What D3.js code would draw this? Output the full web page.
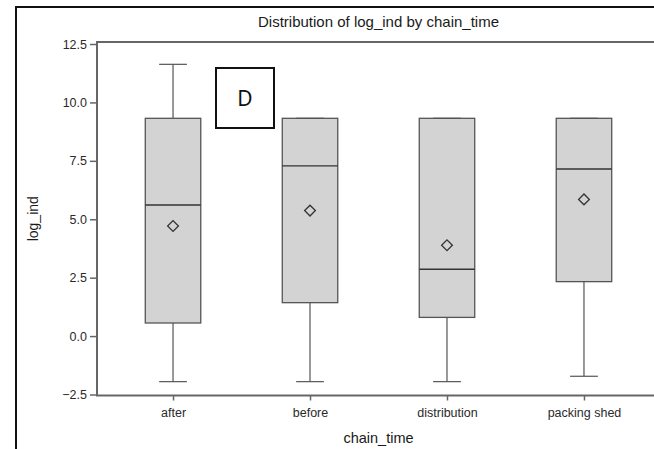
<!DOCTYPE html>
<html>
<head>
<meta charset="utf-8">
<script src="https://cdn.jsdelivr.net/npm/d3@7"></script>
<style>
  body { margin: 0; background: #fff; }
  svg { display: block; font-family: "Liberation Sans", Arial, sans-serif; }
</style>
</head>
<body>
<div id="chart"></div>
<script>
// data
const categories = ["after", "before", "distribution", "packing shed"];
const mins    = [-1.95, -1.95, -1.95, -1.72];
const q1s     = [0.56, 1.43, 0.80, 2.33];
const medians = [5.61, 7.28, 2.86, 7.15];
const q3s     = [9.32, 9.32, 9.32, 9.32];
const maxs    = [11.63, 9.32, 9.32, 9.32];
const means   = [4.71, 5.37, 3.89, 5.85];
const yTicks  = [-2.5, 0, 2.5, 5, 7.5, 10, 12.5];

const stats = categories.map((c, i) => ({
  cat: c, min: mins[i], q1: q1s[i], med: medians[i], q3: q3s[i], max: maxs[i], mean: means[i]
}));

// 1. dimensions
const width = 654, height = 449;
const plot = { left: 97, right: 660, top: 42, bottom: 395.5 };

// 2. canvas
const svg = d3.select("#chart").append("svg")
  .attr("width", width)
  .attr("height", height);

// outer black frame (runs off the right / bottom edge)
svg.append("rect")
  .attr("x", 16).attr("y", 7)
  .attr("width", 700).attr("height", 500)
  .attr("fill", "none")
  .attr("stroke", "#111")
  .attr("stroke-width", 2);

// 3. scales
const xScale = d3.scalePoint()
  .domain(categories)
  .range([plot.left, plot.right])
  .padding(0.555);

const yScale = d3.scaleLinear()
  .domain([-2.5, 12.5])
  .range([394.5, 44]);

const step = xScale.step();
const boxW = step * 0.405;
const capW = boxW / 2;

// 4. axes
const axisColor = "#666";
const textColor = "#2a2a2a";

const yAxis = svg.append("g")
  .attr("transform", `translate(${plot.left},0)`)
  .call(d3.axisLeft(yScale).tickValues(yTicks).tickFormat(d3.format(".1f")).tickSizeOuter(0).tickSize(7));
yAxis.select(".domain").remove();
yAxis.selectAll(".tick line").attr("stroke", axisColor).attr("stroke-width", 1.5);
yAxis.selectAll(".tick text")
  .attr("fill", textColor)
  .attr("font-size", 12.5)
  .attr("x", -10)
  .attr("font-family", "Liberation Sans, Arial, sans-serif");

const xAxis = svg.append("g")
  .attr("transform", `translate(0,${plot.bottom})`)
  .call(d3.axisBottom(xScale).tickSizeOuter(0).tickSize(5));
xAxis.select(".domain").remove();
xAxis.selectAll(".tick line").attr("stroke", axisColor).attr("stroke-width", 1.5);
xAxis.selectAll(".tick text")
  .attr("fill", textColor)
  .attr("font-size", 12.5)
  .attr("dy", "1.05em")
  .attr("font-family", "Liberation Sans, Arial, sans-serif");

// plot frame
svg.append("path")
  .attr("d", `M${plot.right + 5},${plot.top}H${plot.left}V${plot.bottom}H${plot.right + 5}`)
  .attr("fill", "none")
  .attr("stroke", axisColor)
  .attr("stroke-width", 2);

// 5. boxes
const boxes = svg.append("g").attr("class", "boxes")
  .selectAll("g").data(stats).join("g")
  .attr("transform", (d) => `translate(${xScale(d.cat)},0)`);

const lineColor = "#555";

// whiskers
boxes.append("line")
  .attr("x1", 0).attr("x2", 0)
  .attr("y1", (d) => yScale(d.q3)).attr("y2", (d) => yScale(d.max))
  .attr("stroke", lineColor).attr("stroke-width", 1.2);
boxes.append("line")
  .attr("x1", 0).attr("x2", 0)
  .attr("y1", (d) => yScale(d.q1)).attr("y2", (d) => yScale(d.min))
  .attr("stroke", lineColor).attr("stroke-width", 1.2);

boxes.append("rect")
  .attr("x", -boxW / 2)
  .attr("width", boxW)
  .attr("y", (d) => yScale(d.q3))
  .attr("height", (d) => yScale(d.q1) - yScale(d.q3))
  .attr("fill", "#d3d3d3")
  .attr("stroke", lineColor)
  .attr("stroke-width", 1.3);

// caps
boxes.append("line")
  .attr("x1", -capW / 2).attr("x2", capW / 2)
  .attr("y1", (d) => yScale(d.max)).attr("y2", (d) => yScale(d.max))
  .attr("stroke", lineColor).attr("stroke-width", 1.2);
boxes.append("line")
  .attr("x1", -capW / 2).attr("x2", capW / 2)
  .attr("y1", (d) => yScale(d.min)).attr("y2", (d) => yScale(d.min))
  .attr("stroke", lineColor).attr("stroke-width", 1.2);

// median
boxes.append("line")
  .attr("x1", -boxW / 2).attr("x2", boxW / 2)
  .attr("y1", (d) => yScale(d.med)).attr("y2", (d) => yScale(d.med))
  .attr("stroke", "#333").attr("stroke-width", 1.3);

// mean diamond
boxes.append("path")
  .attr("d", d3.symbol(d3.symbolSquare, 58))
  .attr("transform", (d) => `translate(0,${yScale(d.mean)}) rotate(45)`)
  .attr("fill", "none")
  .attr("stroke", "#333")
  .attr("stroke-width", 1.3);

// 6. titles
svg.append("text")
  .attr("x", (plot.left + plot.right) / 2)
  .attr("y", 27)
  .attr("text-anchor", "middle")
  .attr("font-size", 15)
  .attr("fill", "#1a1a1a")
  .text("Distribution of log_ind by chain_time");

svg.append("text")
  .attr("x", (plot.left + plot.right) / 2)
  .attr("y", 443)
  .attr("text-anchor", "middle")
  .attr("font-size", 14.5)
  .attr("fill", "#1a1a1a")
  .text("chain_time");

svg.append("text")
  .attr("transform", `translate(38,${(plot.top + plot.bottom) / 2}) rotate(-90)`)
  .attr("text-anchor", "middle")
  .attr("font-size", 14)
  .attr("fill", "#1a1a1a")
  .text("log_ind");

// panel letter
svg.append("rect")
  .attr("x", 216).attr("y", 68)
  .attr("width", 58).attr("height", 60)
  .attr("fill", "#fff")
  .attr("stroke", "#111")
  .attr("stroke-width", 2);
svg.append("text")
  .attr("x", 245).attr("y", 98)
  .attr("dy", "0.36em")
  .attr("text-anchor", "middle")
  .attr("font-family", "Noto Sans, Open Sans, sans-serif")
  .attr("font-size", 21)
  .attr("fill", "#111")
  .text("D");
</script>
</body>
</html>
